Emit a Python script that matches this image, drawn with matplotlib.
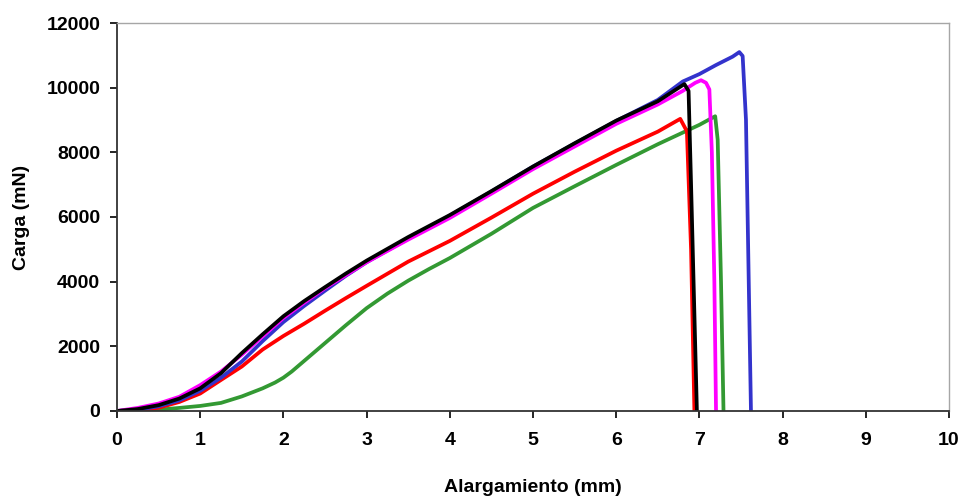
import matplotlib
matplotlib.use("Agg")
import matplotlib.pyplot as plt

# Load-elongation curves of five specimens (elongation in mm, load in mN)
black_x = [0, 0.25, 0.5, 0.75, 1.0, 1.25, 1.5, 1.75, 2.0, 2.25, 2.5, 2.75, 3.0, 3.5, 4.0, 4.5, 5.0, 5.5, 6.0, 6.5, 6.82, 6.87, 6.90, 6.94, 6.97]
black_y = [0, 60, 180, 385, 700, 1170, 1790, 2370, 2930, 3400, 3830, 4250, 4650, 5380, 6060, 6800, 7560, 8280, 8980, 9580, 10110, 9900, 7000, 3000, 0]

blue_x = [0, 0.25, 0.5, 0.75, 1.0, 1.25, 1.5, 1.75, 2.0, 2.25, 2.5, 2.75, 3.0, 3.5, 4.0, 4.5, 5.0, 5.5, 6.0, 6.5, 6.8, 7.0, 7.2, 7.4, 7.48, 7.52, 7.56, 7.59, 7.62]
blue_y = [0, 40, 145, 330, 625, 1030, 1530, 2160, 2750, 3250, 3720, 4180, 4600, 5330, 6040, 6790, 7560, 8270, 8970, 9620, 10190, 10420, 10700, 10960, 11100, 10980, 9010, 4500, 0]

magenta_x = [0, 0.25, 0.5, 0.75, 1.0, 1.25, 1.5, 1.75, 2.0, 2.25, 2.5, 2.75, 3.0, 3.5, 4.0, 4.5, 5.0, 5.5, 6.0, 6.5, 6.8, 6.95, 7.02, 7.08, 7.12, 7.15, 7.18, 7.20]
magenta_y = [0, 95, 230, 440, 800, 1220, 1740, 2310, 2880, 3350, 3800, 4200, 4600, 5300, 5970, 6720, 7480, 8180, 8880, 9480, 9900, 10150, 10230, 10150, 9945, 8000, 4000, 0]

red_x = [0, 0.25, 0.5, 0.75, 1.0, 1.25, 1.5, 1.75, 2.0, 2.25, 2.5, 2.75, 3.0, 3.5, 4.0, 4.5, 5.0, 5.5, 6.0, 6.5, 6.77, 6.85, 6.90, 6.94]
red_y = [0, 20, 100, 280, 540, 960, 1375, 1900, 2320, 2700, 3100, 3490, 3870, 4620, 5260, 5980, 6720, 7400, 8050, 8640, 9035, 8650, 5000, 0]

green_x = [0, 0.25, 0.5, 0.75, 1.0, 1.25, 1.5, 1.75, 1.9, 2.0, 2.1, 2.25, 2.5, 2.75, 3.0, 3.25, 3.5, 3.75, 4.0, 4.5, 5.0, 5.5, 6.0, 6.5, 7.0, 7.19, 7.22, 7.26, 7.29]
green_y = [0, 10, 40, 95, 156, 250, 450, 700, 880, 1030, 1220, 1550, 2100, 2650, 3180, 3630, 4030, 4390, 4730, 5480, 6280, 6950, 7610, 8250, 8850, 9116, 8390, 4000, 0]

x_ticks = list(range(0, 11))
y_ticks = list(range(0, 12001, 2000))

plt.rcParams["font.family"] = ["Liberation Sans", "DejaVu Sans"]
plt.rcParams["font.weight"] = "bold"

fig = plt.figure(figsize=(9.64, 4.99), dpi=100)
ax = fig.add_axes([0.1214, 0.1764, 0.8630, 0.7775])

lw = 2.7
ax.plot(green_x, green_y, color="#339933", lw=lw)
ax.plot(red_x, red_y, color="#ff0000", lw=lw)
ax.plot(blue_x, blue_y, color="#3333cc", lw=lw)
ax.plot(magenta_x, magenta_y, color="#ff00ff", lw=lw)
ax.plot(black_x, black_y, color="#000000", lw=lw)

ax.set_xlim(0, 10)
ax.set_ylim(0, 12000)
ax.set_xticks(x_ticks)
ax.set_yticks(y_ticks)
ax.tick_params(axis="both", direction="out", length=5, width=1.2, labelsize=14, colors="#000000")
ax.tick_params(axis="x", pad=10)
ax.tick_params(axis="y", pad=7)
for lab in ax.get_xticklabels() + ax.get_yticklabels():
    lab.set_fontweight("bold")

for side in ("left", "bottom"):
    ax.spines[side].set_color("#333333")
    ax.spines[side].set_linewidth(1.3)
for side in ("top", "right"):
    ax.spines[side].set_color("#a6a6a6")
    ax.spines[side].set_linewidth(1.0)

ax.set_xlabel("Alargamiento (mm)", fontsize=14, fontweight="bold", labelpad=22)
ax.set_ylabel("Carga (mN)", fontsize=14, fontweight="bold", labelpad=12)

fig.savefig("out.png", dpi=100)
